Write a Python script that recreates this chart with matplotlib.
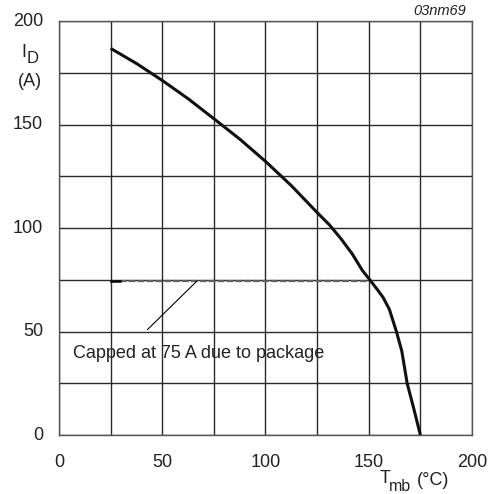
import numpy as np
import matplotlib.pyplot as plt

plt.rcParams['font.family'] = ['Liberation Sans', 'DejaVu Sans']

# derating curve
t_mb = [25, 37.5, 50, 62.5, 75, 87.5, 100, 112.5, 125, 131, 136.5, 142, 147, 150.5, 154, 157, 160, 163.4, 166, 168.6, 172, 175]
i_d = [186.8, 179.5, 171.3, 162.5, 152.8, 143, 132.2, 120.5, 107.5, 101.5, 94.9, 87.5, 79.4, 75, 70.5, 66.4, 60.7, 50, 40.6, 25, 12, 0]

cap_x = [25, 152]
cap_y = [74.3, 74.3]

x_ticks = [0, 50, 100, 150, 200]
y_ticks = [0, 50, 100, 150, 200]

fig = plt.figure(figsize=(4.95, 4.94), dpi=100)
ax = fig.add_axes([0.1192, 0.1194, 0.8343, 0.838])

ax.set_xlim(0, 200)
ax.set_ylim(0, 200)
ax.set_xticks(np.arange(0, 201, 25))
ax.set_yticks(np.arange(0, 201, 25))
ax.grid(True, color='#2a2a2a', linewidth=1.0)
ax.tick_params(length=0, labelbottom=False, labelleft=False)
for s in ax.spines.values():
    s.set_color('#555555')
    s.set_linewidth(1.0)

txt = dict(fontsize=13, color='#222222')

# tick labels only at every 50
for v in x_ticks:
    ax.text(v, -13.5, str(v), ha='center', va='center', **txt)
for v in y_ticks:
    ax.text(-7.7, v, str(v), ha='right', va='center', **txt)

ax.plot(cap_x, cap_y, color='#606060', linewidth=1.6, dashes=(3, 1), zorder=3)
ax.plot([25, 29.5], [74.3, 74.3], color='black', linewidth=1.8, zorder=4)
ax.plot(t_mb, i_d, color='#111111', linewidth=2.2, solid_capstyle='butt', zorder=5)

ax.plot([66.7, 42.9], [74.3, 51], color='black', linewidth=0.8, zorder=4)
ax.text(7.0, 39.5, 'Capped at 75 A due to package', ha='left', va='center', **txt)

# axis titles, built from pieces like the datasheet
ax.text(155.2, -20.8, 'T', ha='left', va='center', **txt)
ax.text(160.0, -24.8, 'mb', ha='left', va='center', fontsize=11.5, color='#222222')
ax.text(173.2, -21.8, '(°C)', ha='left', va='center', **txt)
ax.text(-18.2, 184.8, 'I', ha='left', va='center', **txt)
ax.text(-15.8, 182.1, 'D', ha='left', va='center', fontsize=12, color='#222222')
ax.text(-14.3, 171, '(A)', ha='center', va='center', **txt)
ax.text(197.0, 204.8, '03nm69', ha='right', va='center', fontsize=10.5, style='italic', color='#222222')

fig.savefig('out.png', dpi=100)
